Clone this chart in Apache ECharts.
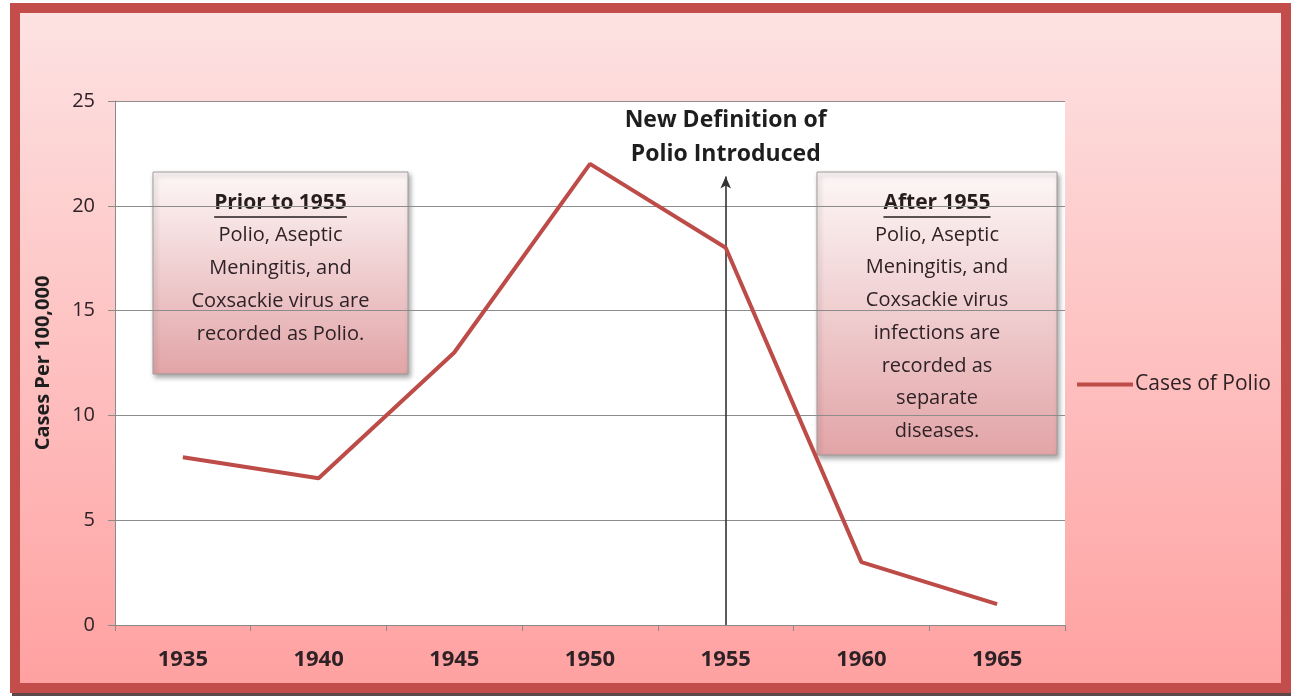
<!DOCTYPE html>
<html>
<head>
<meta charset="utf-8">
<script src="https://cdn.jsdelivr.net/npm/echarts@6/dist/echarts.min.js"></script>
<style>
  html, body { margin: 0; padding: 0; background: #fff; }
  #chart { width: 1291px; height: 696px; }
</style>
</head>
<body>
<div id="chart"></div>
<script>
const years = ['1935', '1940', '1945', '1950', '1955', '1960', '1965']
const casesOfPolio = [8, 7, 13, 22, 18, 3, 1]
const yTicks = { min: 0, max: 25, interval: 5 }
const changeYear = '1955'
const arrowTop = 21.4

const priorLines = ['Polio, Aseptic', 'Meningitis, and', 'Coxsackie virus are', 'recorded as Polio.']
const afterLines = ['Polio, Aseptic', 'Meningitis, and', 'Coxsackie virus', 'infections are', 'recorded as', 'separate', 'diseases.']

const textColor = '#2e2226'
const fontFamily = '"Open Sans", "DejaVu Sans", sans-serif'

// note box: gradient rect + underlined heading + body lines
function noteBox(x, y, w, h, heading, lines, lineH) {
  const cx = x + w / 2
  const headFont = 'bold 21px ' + fontFamily
  const hw = echarts.format.getTextRect ? echarts.format.getTextRect(heading, headFont).width : heading.length * 11
  const children = [{
    type: 'rect',
    shape: { x: x, y: y, width: w, height: h },
    style: {
      fill: new echarts.graphic.LinearGradient(0, 0, 0, 1, [
        { offset: 0, color: '#fdf7f7' },
        { offset: 1, color: '#e2a4a7' }
      ]),
      stroke: '#a09a9a',
      lineWidth: 1,
      shadowBlur: 5,
      shadowOffsetX: 2,
      shadowOffsetY: 3,
      shadowColor: 'rgba(0,0,0,0.35)'
    }
  }, {
    type: 'text',
    style: {
      x: cx, y: y + 31, text: heading, align: 'center', verticalAlign: 'middle',
      font: headFont, fill: '#261e1e'
    }
  }, {
    type: 'line',
    shape: { x1: cx - hw / 2, y1: y + 45, x2: cx + hw / 2, y2: y + 45 },
    style: { stroke: '#261e1e', lineWidth: 1.5 }
  }]
  lines.forEach((t, i) => {
    children.push({
      type: 'text',
      style: {
        x: cx, y: y + 63 + i * lineH, text: t, align: 'center', verticalAlign: 'middle',
        font: '20px ' + fontFamily, fill: textColor
      }
    })
  })
  return { type: 'group', z: 100, children: children }
}

const chart = echarts.init(document.getElementById('chart'))
chart.setOption({
  animation: false,
  backgroundColor: '#fff',
  graphic: [{
    type: 'rect', z: -10,
    shape: { x: 12, y: 686, width: 1279, height: 10 },
    style: { fill: '#5b4848' }
  }, {
    type: 'rect', z: -9,
    shape: { x: 15, y: 8, width: 1271, height: 680 },
    style: {
      fill: new echarts.graphic.LinearGradient(0, 0, 0, 1, [
        { offset: 0, color: '#fde3e3' },
        { offset: 1, color: '#ffa0a0' }
      ]),
      stroke: '#c24d4a',
      lineWidth: 10
    }
  },
  noteBox(153, 172, 255, 202, 'Prior to 1955', priorLines, 33),
  noteBox(817, 172, 240, 283, 'After 1955', afterLines, 32.7)
  ],
  grid: {
    left: 115, right: 226, top: 101, bottom: 71,
    show: true, backgroundColor: '#fff', borderWidth: 0
  },
  legend: {
    left: 1072, top: 369,
    icon: 'rect', itemWidth: 56, itemHeight: 4, itemGap: 4,
    textStyle: { color: textColor, fontSize: 21, fontFamily: fontFamily, padding: [0, 0, 0, -3] },
    data: ['Cases of Polio']
  },
  xAxis: {
    type: 'category',
    data: years,
    boundaryGap: true,
    axisLine: { lineStyle: { color: '#8a8a8a', width: 1 } },
    axisTick: { show: true, length: 6, inside: false, alignWithLabel: false, lineStyle: { color: '#8a8a8a' } },
    axisLabel: { color: textColor, fontSize: 22, fontWeight: 'bold', fontFamily: fontFamily, margin: 24 }
  },
  yAxis: {
    type: 'value',
    min: yTicks.min, max: yTicks.max, interval: yTicks.interval,
    name: 'Cases Per 100,000',
    nameLocation: 'middle',
    nameGap: 62,
    nameTextStyle: { color: '#1e1e1e', fontSize: 20, fontWeight: 'bold', fontFamily: fontFamily },
    axisLine: { show: true, lineStyle: { color: '#8a8a8a', width: 1 } },
    axisTick: { show: true, length: 7, lineStyle: { color: '#8a8a8a' } },
    axisLabel: { color: textColor, fontSize: 20, fontFamily: fontFamily, margin: 20 },
    splitLine: { lineStyle: { color: '#8c8c8c', width: 1 } }
  },
  series: [{
    name: 'Cases of Polio',
    type: 'line',
    data: casesOfPolio,
    symbol: 'none',
    color: '#bd4b48',
    lineStyle: { width: 4, color: '#bd4b48' },
    z: 5,
    markLine: {
      silent: true,
      symbol: ['none', 'arrow'],
      symbolSize: [8, 12],
      lineStyle: { color: '#333', width: 1.6, type: 'solid' },
      label: {
        show: true,
        position: 'end',
        distance: 5,
        formatter: 'New Definition of\nPolio Introduced',
        color: '#1e1e1e',
        fontSize: 23,
        fontWeight: 'bold',
        fontFamily: fontFamily,
        lineHeight: 34
      },
      data: [[{ coord: [changeYear, 0] }, { coord: [changeYear, arrowTop] }]]
    }
  }]
})
</script>
</body>
</html>
